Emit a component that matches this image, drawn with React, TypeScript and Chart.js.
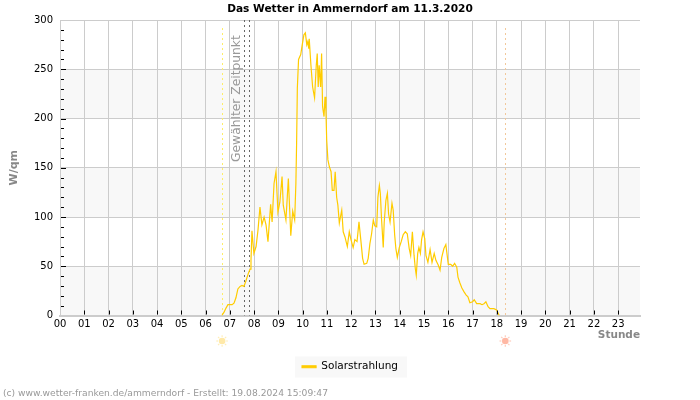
import React, { useEffect, useRef } from "react";
import { Chart, registerables } from "chart.js";

Chart.register(...registerables);

const titleText = "Das Wetter in Ammerndorf am 11.3.2020";
const footerText = "(c) www.wetter-franken.de/ammerndorf - Erstellt: 19.08.2024 15:09:47";
const seriesName = "Solarstrahlung";
const yTitle = "W/qm";
const xTitle = "Stunde";
const selectedLabel = "Gewählter Zeitpunkt";

const hours = [
  6.67, 6.76, 6.84, 6.92, 7.09, 7.17, 7.25, 7.33, 7.42, 7.5, 7.58, 7.66, 7.75, 7.83, 7.87, 7.91, 7.99, 8.08, 8.16, 8.24,
  8.32, 8.41, 8.49, 8.57, 8.68, 8.74, 8.82, 8.9, 8.98, 9.06, 9.15, 9.2, 9.31, 9.41, 9.51, 9.59, 9.67, 9.72, 9.75, 9.78,
  9.83, 9.92, 9.97, 10.05, 10.11, 10.17, 10.21, 10.25, 10.27, 10.34, 10.41, 10.49, 10.56, 10.6, 10.64, 10.68, 10.74, 10.78, 10.82, 10.88,
  10.92, 10.96, 10.99, 11.04, 11.1, 11.17, 11.22, 11.29, 11.34, 11.4, 11.45, 11.51, 11.61, 11.67, 11.74, 11.84, 11.92, 11.99, 12.08, 12.15,
  12.24, 12.32, 12.39, 12.47, 12.53, 12.64, 12.7, 12.77, 12.84, 12.91, 12.97, 13.05, 13.1, 13.16, 13.2, 13.25, 13.32, 13.36, 13.43, 13.49,
  13.54, 13.6, 13.68, 13.73, 13.79, 13.84, 13.9, 13.98, 14.06, 14.14, 14.23, 14.31, 14.39, 14.45, 14.52, 14.59, 14.64, 14.68, 14.74, 14.79,
  14.85, 14.9, 14.96, 15.03, 15.08, 15.16, 15.25, 15.33, 15.42, 15.49, 15.59, 15.66, 15.73, 15.82, 15.9, 16.0, 16.1, 16.18, 16.26, 16.35,
  16.4, 16.48, 16.56, 16.65, 16.73, 16.81, 16.89, 17.0, 17.07, 17.17, 17.31, 17.39, 17.47, 17.55, 17.64, 17.72, 17.88, 17.99, 18.1,
];

const solar = [
  0, 3.4, 7.5, 11, 11, 12.5, 18, 27, 29.5, 30.5, 29.5, 35, 42, 47, 56, 86, 63, 70, 87, 110,
  92, 100, 92, 75, 113, 95, 134, 146, 105, 115, 141, 112, 97, 139, 81, 106, 97, 134, 175, 231,
  260, 265, 273, 285, 287, 275, 278, 271, 281, 254, 232, 221, 254, 266, 232, 254, 232, 266, 212, 202,
  222, 207, 178, 158, 151, 146, 127, 127, 146, 120, 112, 94, 107, 85, 80, 70, 85, 77, 69, 77,
  75, 95, 78, 58, 52, 53, 58, 73, 83, 97, 91, 90, 120, 132, 124, 98, 69, 95, 117, 124,
  103, 95, 114, 107, 82, 68, 59, 69, 75, 82, 85, 83, 68, 61, 85, 61, 48, 41, 63, 69,
  63, 77, 85, 78, 61, 54, 67, 54, 63, 56, 51, 46, 59, 68, 72, 52, 52, 50, 53, 49,
  39, 33, 28, 24, 21, 19, 13, 14, 16, 12, 12, 11, 12, 14, 9, 7, 7, 5.7, 0,
];

const points = hours.map((h, i) => ({ x: h, y: solar[i] }));

const sunrise = 6.68;
const sunset = 18.35;
const selectedStart = 7.6;
const selectedEnd = 7.78;
const bands = [[0, 50], [100, 150], [200, 250]];
const minorTicks = [10, 20, 30, 40, 60, 70, 80, 90, 110, 120, 130, 140, 160, 170, 180, 190, 210, 220, 230, 240, 260, 270, 280, 290];
const majorTicks = [50, 100, 150, 200, 250];
const hourTicks = Array.from({ length: 24 }, (_, i) => i);

const FONT = "'DejaVu Sans'";

function drawSun(ctx: CanvasRenderingContext2D, x: number, y: number, core: string, ray: string) {
  ctx.save();
  ctx.strokeStyle = ray;
  ctx.lineWidth = 1.2;
  for (let i = 0; i < 8; i++) {
    const a = (i * Math.PI) / 4;
    ctx.beginPath();
    ctx.moveTo(x + Math.cos(a) * 4, y + Math.sin(a) * 4);
    ctx.lineTo(x + Math.cos(a) * 5.8, y + Math.sin(a) * 5.8);
    ctx.stroke();
  }
  ctx.fillStyle = core;
  ctx.beginPath();
  ctx.arc(x, y, 3.3, 0, Math.PI * 2);
  ctx.fill();
  ctx.restore();
}

const decor = {
  id: "decor",
  afterLayout(chart: any) {
    // centre title and legend on the full canvas, not on the reduced layout box
    for (const box of [chart.titleBlock, chart.legend]) {
      if (box) {
        box.left = 0;
        box.right = 700;
      }
    }
  },
  beforeDraw(chart: any) {
    const { ctx, chartArea: a, scales, legend } = chart;
    ctx.save();
    ctx.fillStyle = "#f8f8f8";
    for (const [lo, hi] of bands) {
      const top = scales.y.getPixelForValue(hi);
      const bottom = scales.y.getPixelForValue(lo);
      ctx.fillRect(a.left, top, a.right - a.left, bottom - top);
    }
    if (legend) {
      ctx.fillRect(295, legend.top, 112, 21);
    }
    ctx.restore();
  },
  beforeDatasetsDraw(chart: any) {
    const { ctx, chartArea: a, scales } = chart;
    const vline = (h: number, color: string, top: number) => {
      const x = Math.round(scales.x.getPixelForValue(h)) + 0.5;
      ctx.strokeStyle = color;
      ctx.lineWidth = 1;
      ctx.setLineDash([2, 3]);
      ctx.beginPath();
      ctx.moveTo(x, top);
      ctx.lineTo(x, a.bottom);
      ctx.stroke();
    };
    ctx.save();
    vline(sunrise, "#ffee66", a.top + 8);
    vline(sunset, "#f2c89a", a.top + 8);
    vline(selectedStart, "#666666", a.top);
    vline(selectedEnd, "#666666", a.top);
    ctx.setLineDash([]);
    ctx.restore();

    ctx.save();
    ctx.translate(scales.x.getPixelForValue(selectedStart) - 1, a.top + 142);
    ctx.rotate(-Math.PI / 2);
    ctx.font = `12.3px ${FONT}`;
    ctx.fillStyle = "#999999";
    ctx.textAlign = "left";
    ctx.textBaseline = "bottom";
    ctx.fillText(selectedLabel, 0, 0);
    ctx.restore();
  },
  afterDraw(chart: any) {
    const { ctx, chartArea: a, scales } = chart;
    ctx.save();
    ctx.strokeStyle = "#000000";
    ctx.lineWidth = 1;
    for (const v of minorTicks) {
      const y = Math.round(scales.y.getPixelForValue(v)) + 0.5;
      ctx.beginPath();
      ctx.moveTo(a.left + 1, y);
      ctx.lineTo(a.left + 4, y);
      ctx.stroke();
    }
    for (const v of majorTicks) {
      const y = Math.round(scales.y.getPixelForValue(v)) + 0.5;
      ctx.beginPath();
      ctx.moveTo(a.left + 1, y);
      ctx.lineTo(a.left + 6, y);
      ctx.stroke();
    }
    for (const h of hourTicks.slice(1)) {
      const x = Math.round(scales.x.getPixelForValue(h)) + 0.5;
      ctx.beginPath();
      ctx.moveTo(x, a.bottom - 5);
      ctx.lineTo(x, a.bottom - 1);
      ctx.stroke();
    }
    drawSun(ctx, scales.x.getPixelForValue(sunrise), 341, "#ffe9a8", "#ffeeb8");
    drawSun(ctx, scales.x.getPixelForValue(sunset), 341, "#ffb8a4", "#ffcbbb");
    ctx.font = `9.17px ${FONT}`;
    ctx.fillStyle = "#999999";
    ctx.textAlign = "left";
    ctx.textBaseline = "middle";
    ctx.fillText(footerText, 3, 393.5);
    ctx.restore();
  },
};

export default function App() {
  const ref = useRef<HTMLCanvasElement>(null);
  useEffect(() => {
    const chart = new Chart(ref.current as HTMLCanvasElement, {
      type: "line",
      data: {
        datasets: [
          {
            label: seriesName,
            data: points,
            borderColor: "#ffcc00",
            backgroundColor: "#ffcc00",
            borderWidth: 1.2,
            pointRadius: 0,
            tension: 0,
            fill: false,
          },
        ],
      },
      plugins: [decor],
      options: {
        responsive: false,
        animation: false,
        layout: { padding: { top: 0, right: 60, bottom: 18, left: 0 } },
        plugins: {
          tooltip: { enabled: false },
          title: {
            display: true,
            text: titleText,
            color: "#000000",
            font: { family: FONT, size: 10.6, weight: "bold" },
            padding: { top: 3, bottom: 4.3 },
          },
          legend: {
            display: true,
            position: "bottom",
            labels: {
              color: "#000000",
              font: { family: FONT, size: 10.5 },
              boxWidth: 14,
              boxHeight: 2,
              padding: 5,
            },
          },
        },
        scales: {
          x: {
            type: "linear",
            min: 0,
            max: 23.9,
            afterFit: (s: any) => {
              s.height = 41;
            },
            afterBuildTicks: (s: any) => {
              s.ticks = hourTicks.map((v) => ({ value: v }));
            },
            border: { color: "#cccccc", width: 2 },
            grid: { color: "#cccccc", drawTicks: false, lineWidth: 1 },
            ticks: {
              color: "#000000",
              font: { family: FONT, size: 10 },
              padding: 3,
              maxRotation: 0,
              autoSkip: false,
              callback: (v: any) => String(v).padStart(2, "0"),
            },
            title: {
              display: true,
              text: xTitle,
              align: "end",
              color: "#888888",
              font: { family: FONT, size: 10.5, weight: "bold" },
              padding: { top: 0, bottom: 15 },
            },
          },
          y: {
            min: 0,
            max: 300,
            afterFit: (s: any) => {
              s.width = 60;
            },
            border: { color: "#cccccc" },
            grid: { color: "#cccccc", drawTicks: false, lineWidth: 1 },
            ticks: {
              stepSize: 50,
              color: "#000000",
              font: { family: FONT, size: 10 },
              padding: 7,
            },
            title: {
              display: true,
              text: yTitle,
              color: "#888888",
              font: { family: FONT, size: 11, weight: "bold" },
              padding: { top: 8, bottom: 0 },
            },
          },
        },
      },
    } as any);
    return () => chart.destroy();
  }, []);
  return (
    <div style={{ position: "absolute", left: 0, top: 0, width: 700, height: 400 }}>
      <canvas ref={ref} width={700} height={400} style={{ display: "block" }} />
    </div>
  );
}
